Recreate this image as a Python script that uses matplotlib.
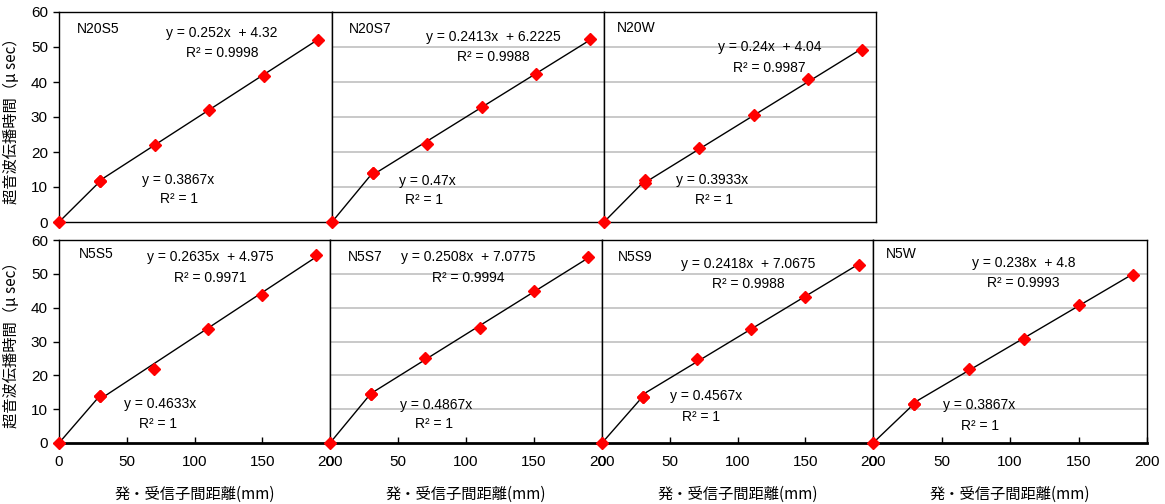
import matplotlib.pyplot as plt
import numpy as np

plt.rcParams['font.family'] = ['Liberation Sans', 'Noto Sans CJK JP', 'DejaVu Sans']

# data
x_points = [0, 30, 70, 110, 150, 190]
names = ["N20S5", "N20S7", "N20W", "N5S5", "N5S7", "N5S9", "N5W"]
y_first = [11.6, 14.1, 11.9, 13.9, 14.6, 13.7, 11.5]  # point at 30 mm (origin fit)
y_rest = [
    [11.6, 22.0, 32.0, 41.8, 52.0],
    [14.1, 22.4, 32.9, 42.4, 52.2],
    [11.2, 21.1, 30.6, 40.8, 49.1],
    [13.9, 22.0, 33.8, 43.8, 55.6],
    [14.6, 25.0, 33.9, 44.9, 55.0],
    [13.7, 24.7, 33.6, 43.3, 52.7],
    [11.5, 21.8, 30.7, 40.8, 49.7],
]
slope_origin = [0.3867, 0.47, 0.3933, 0.4633, 0.4867, 0.4567, 0.3867]
slope_fit = [0.252, 0.2413, 0.24, 0.2635, 0.2508, 0.2418, 0.238]
icpt_fit = [4.32, 6.2225, 4.04, 4.975, 7.0775, 7.0675, 4.8]
r2_fit = ["0.9998", "0.9988", "0.9987", "0.9971", "0.9994", "0.9988", "0.9993"]
eq_fit = ["y = 0.252x  + 4.32", "y = 0.2413x  + 6.2225", "y = 0.24x  + 4.04",
          "y = 0.2635x  + 4.975", "y = 0.2508x  + 7.0775", "y = 0.2418x  + 7.0675",
          "y = 0.238x  + 4.8"]
eq_origin = ["y = 0.3867x", "y = 0.47x", "y = 0.3933x", "y = 0.4633x",
             "y = 0.4867x", "y = 0.4567x", "y = 0.3867x"]
y_ticks = [0, 10, 20, 30, 40, 50, 60]
x_ticks = [0, 50, 100, 150, 200]

W, H = 1165, 504
fig = plt.figure(figsize=(W / 100, H / 100), dpi=100)

# panel boxes in pixels: left, top, right, bottom
boxes = [
    (59, 12, 332, 222), (332, 12, 604, 222), (604, 12, 876, 222),
    (59, 240, 330, 443), (330, 240, 602, 443), (602, 240, 873, 443), (873, 240, 1147, 443),
]
# text anchors in axes fraction: name, fit eq, fit R2, origin eq, origin R2
text_pos = [
    ((0.066, 0.919), (0.597, 0.90), (0.597, 0.805), (0.436, 0.20), (0.44, 0.11)),
    ((0.062, 0.919), (0.593, 0.881), (0.593, 0.786), (0.352, 0.195), (0.34, 0.105)),
    ((0.048, 0.924), (0.608, 0.833), (0.608, 0.733), (0.396, 0.20), (0.403, 0.105)),
    ((0.074, 0.931), (0.557, 0.916), (0.557, 0.813), (0.373, 0.192), (0.365, 0.094)),
    ((0.066, 0.916), (0.509, 0.916), (0.509, 0.813), (0.391, 0.187), (0.384, 0.094)),
    ((0.059, 0.916), (0.539, 0.882), (0.539, 0.783), (0.384, 0.232), (0.365, 0.128)),
    ((0.048, 0.931), (0.55, 0.887), (0.55, 0.788), (0.387, 0.187), (0.39, 0.084)),
]

fs = 10
for i, (l, t, r, b) in enumerate(boxes):
    ax = fig.add_axes([l / W, 1 - b / H, (r - l) / W, (b - t) / H])
    ax.set_xlim(0, 200)
    ax.set_ylim(0, 60)
    ax.set_yticks(y_ticks[1:-1], minor=True)
    ax.grid(True, which="minor", axis="y", color="#c0c0c0", lw=1.2)
    for s in ax.spines.values():
        s.set_color("black")
        s.set_linewidth(1.0)

    bottom_row = i >= 3
    if bottom_row:
        ax.spines["bottom"].set_linewidth(2.0)
        ax.set_xticks(x_ticks)
        ax.tick_params(axis="x", direction="in", length=4, width=1, labelsize=11, pad=9)
        ax.set_xlabel("発・受信子間距離(mm)", fontsize=11, family=["Noto Sans CJK JP"], labelpad=12)
    else:
        ax.set_xticks([])

    if i in (0, 3):
        ax.set_yticks(y_ticks)
        ax.tick_params(axis="y", direction="out", length=4, width=1, labelsize=11, pad=4)
        ax.set_ylabel("超音波伝播時間（μ sec）", fontsize=11, family=["Noto Sans CJK JP"], labelpad=8)
    else:
        ax.set_yticks([])
    ax.tick_params(which="minor", length=0)

    # trend lines
    xa = np.array([0, 30])
    ax.plot(xa, slope_origin[i] * xa, color="black", lw=1.0, zorder=3)
    xb = np.array([30, 190])
    ax.plot(xb, slope_fit[i] * xb + icpt_fit[i], color="black", lw=1.0, zorder=3)

    # data points
    ax.plot(x_points[:2], [0, y_first[i]], ls="none", marker="D", ms=6.5,
            color="#ff0000", clip_on=False, zorder=4)
    ax.plot(x_points[1:], y_rest[i], ls="none", marker="D", ms=6.5,
            color="#ff0000", clip_on=False, zorder=4)

    p = text_pos[i]
    ax.text(*p[0], names[i], transform=ax.transAxes, fontsize=fs, ha="left", va="center")
    ax.text(*p[1], eq_fit[i], transform=ax.transAxes, fontsize=fs, ha="center", va="center")
    ax.text(*p[2], "R² = " + r2_fit[i], transform=ax.transAxes, fontsize=fs, ha="center", va="center")
    ax.text(*p[3], eq_origin[i], transform=ax.transAxes, fontsize=fs, ha="center", va="center")
    ax.text(*p[4], "R² = 1", transform=ax.transAxes, fontsize=fs, ha="center", va="center")

fig.savefig("out.png", dpi=100)
